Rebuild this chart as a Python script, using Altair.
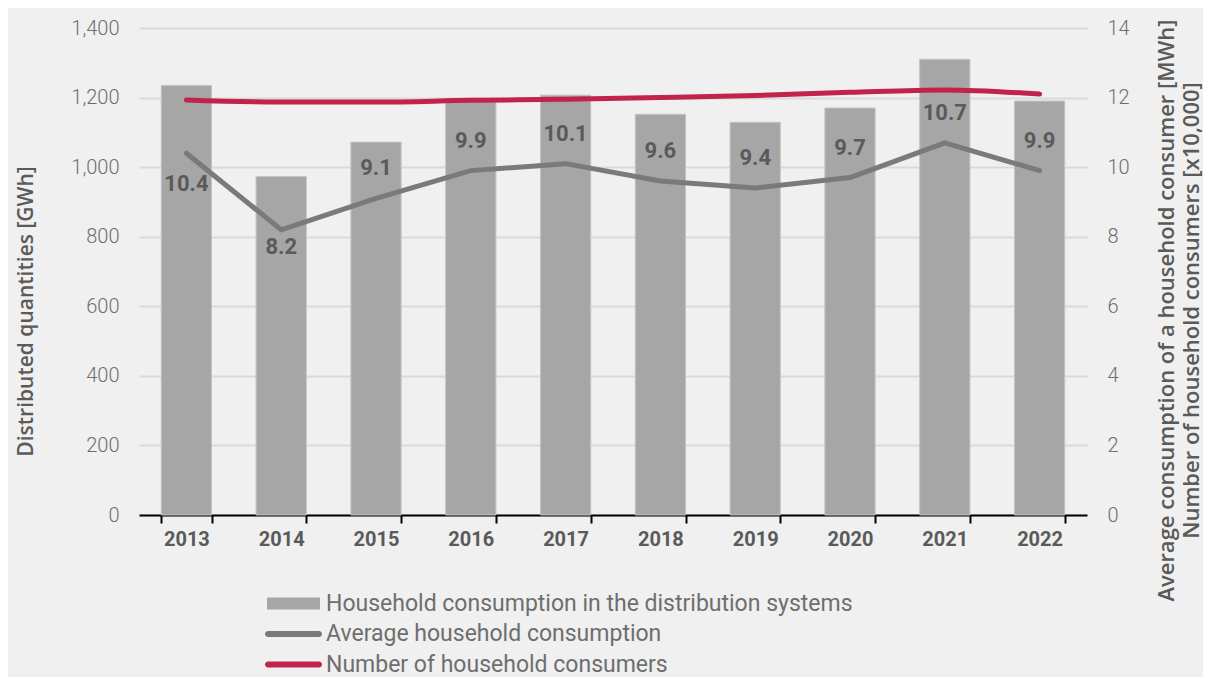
import altair as alt
import pandas as pd

years = ["2013", "2014", "2015", "2016", "2017", "2018", "2019", "2020", "2021", "2022"]
consumption_gwh = [1235, 973, 1072, 1195, 1207, 1152, 1129, 1170, 1310, 1190]
avg_consumption_mwh = [10.4, 8.2, 9.1, 9.9, 10.1, 9.6, 9.4, 9.7, 10.7, 9.9]
consumers_x10000 = [11.93, 11.87, 11.87, 11.92, 11.95, 12.0, 12.06, 12.15, 12.22, 12.1]

series_names = [
    "Household consumption in the distribution systems",
    "Average household consumption",
    "Number of household consumers",
]
series_colors = ["#a6a6a6", "#7a7a7a", "#c1234a"]
labels_below_far = ["2013"]
labels_below_near = ["2014"]

df = pd.DataFrame({
    "year": years,
    "consumption": consumption_gwh,
    "avg": avg_consumption_mwh,
    "consumers": consumers_x10000,
})

FONT = "Roboto"
TITLE_FONT = "Open Sans"
TEXT_DARK = "#5a5a5a"
TEXT_LIGHT = "#6e6e6e"

# legend symbol shapes (unit path, drawn at symbolSize=4 -> 1px per unit)
BAR_SYMBOL = "M-26.5,-6H26.5V6H-26.5Z"
LINE_SYMBOL = "M-25.5,-3H25.5A3,3 0 0 1 25.5,3H-25.5A3,3 0 0 1 -25.5,-3Z"

color_scale = alt.Scale(domain=series_names, range=series_colors)
bar_name = series_names[0]
legend = alt.Legend(
    title=None,
    orient="none",
    legendX=143,
    legendY=564,
    direction="vertical",
    symbolType={"expr": f"datum.value === '{bar_name}' ? '{BAR_SYMBOL}' : '{LINE_SYMBOL}'"},
    symbolSize=4,
    symbolStrokeWidth=0,
    symbolFillColor={"expr": "scale('color', datum.value)"},
    symbolOpacity=1,
    labelFontSize=23,
    labelFont=FONT,
    labelColor=TEXT_LIGHT,
    labelOffset=21,
    labelLimit=800,
    rowPadding=6.5,
)

x_enc = alt.X(
    "year:O",
    scale=alt.Scale(paddingInner=0.47, paddingOuter=0.235),
    axis=alt.Axis(
        title=None,
        labelAngle=0,
        tickBand="extent",
        tickColor="#000000",
        tickSize=8,
        tickWidth=2,
        domainColor="#000000",
        domainWidth=2,
        labelFont=FONT,
        labelFontSize=20,
        labelFontWeight="bold",
        labelColor=TEXT_DARK,
        labelPadding=6,
    ),
)

bars = alt.Chart(df).transform_calculate(series=f"'{series_names[0]}'").mark_bar(
    stroke="#c4c4c4", strokeWidth=1
).encode(
    x=x_enc,
    y=alt.Y(
        "consumption:Q",
        scale=alt.Scale(domain=[0, 1400]),
        axis=alt.Axis(
            title="Distributed quantities [GWh]",
            values=[0, 200, 400, 600, 800, 1000, 1200, 1400],
            format=",.0f",
            domain=False,
            ticks=False,
            grid=True,
            gridColor="#d9d9d9",
            gridWidth=2,
            labelFont=FONT,
            labelFontSize=20,
            labelFontWeight=300,
            labelColor=TEXT_LIGHT,
            labelPadding=20,
            titleFont=TITLE_FONT,
            titleFontSize=21,
            titleFontWeight=600,
            titleColor=TEXT_DARK,
            titlePadding=34,
            titleY=283,
        ),
    ),
    color=alt.Color("series:N", scale=color_scale, legend=legend),
)

right_axis = alt.Axis(
    title=[
        "Average consumption of a household consumer [MWh]",
        "Number of household consumers [x10,000]",
    ],
    orient="right",
    values=[0, 2, 4, 6, 8, 10, 12, 14],
    format=".0f",
    domain=False,
    ticks=False,
    grid=False,
    labelFont=FONT,
    labelFontSize=20,
    labelFontWeight=300,
    labelColor=TEXT_LIGHT,
    labelPadding=20,
    titleFont=TITLE_FONT,
    titleFontSize=22,
    titleFontWeight=600,
    titleColor=TEXT_DARK,
    titleAngle=270,
    titlePadding=24,
    titleLineHeight=25,
    titleY=282,
)

y_right = alt.Scale(domain=[0, 14])

avg_line = alt.Chart(df).transform_calculate(series=f"'{series_names[1]}'").mark_line(
    strokeWidth=5, strokeCap="round", strokeJoin="round"
).encode(
    x=alt.X("year:O"),
    y=alt.Y("avg:Q", scale=y_right, axis=right_axis),
    color=alt.Color("series:N", scale=color_scale, legend=legend),
)

cons_line = alt.Chart(df).transform_calculate(series=f"'{series_names[2]}'").mark_line(
    strokeWidth=5, strokeCap="round", strokeJoin="round", interpolate="monotone"
).encode(
    x=alt.X("year:O"),
    y=alt.Y("consumers:Q", scale=y_right, axis=None),
    color=alt.Color("series:N", scale=color_scale, legend=legend),
)


def label_layer(dy, flt):
    return alt.Chart(df).transform_filter(flt).mark_text(
        font=FONT, fontSize=22, fontWeight="bold", color=TEXT_DARK, dy=dy, baseline="middle"
    ).encode(
        x=alt.X("year:O"),
        y=alt.Y("avg:Q", scale=y_right, axis=None),
        text=alt.Text("avg:Q", format=".1f"),
    )


lab_far = label_layer(31, alt.FieldOneOfPredicate(field="year", oneOf=labels_below_far))
lab_near = label_layer(17, alt.FieldOneOfPredicate(field="year", oneOf=labels_below_near))
lab_above = label_layer(
    -30,
    {"not": alt.FieldOneOfPredicate(field="year", oneOf=labels_below_far + labels_below_near)},
)

chart = alt.layer(bars, avg_line, cons_line, lab_far, lab_near, lab_above).resolve_scale(
    y="independent"
).properties(
    width=948,
    height=487,
    background="#eff0ef",
    padding={"left": 7, "top": 10, "right": 0, "bottom": 0},
).configure_view(stroke=None)

chart.save("out.html", embed_options={"renderer": "svg", "actions": False})
